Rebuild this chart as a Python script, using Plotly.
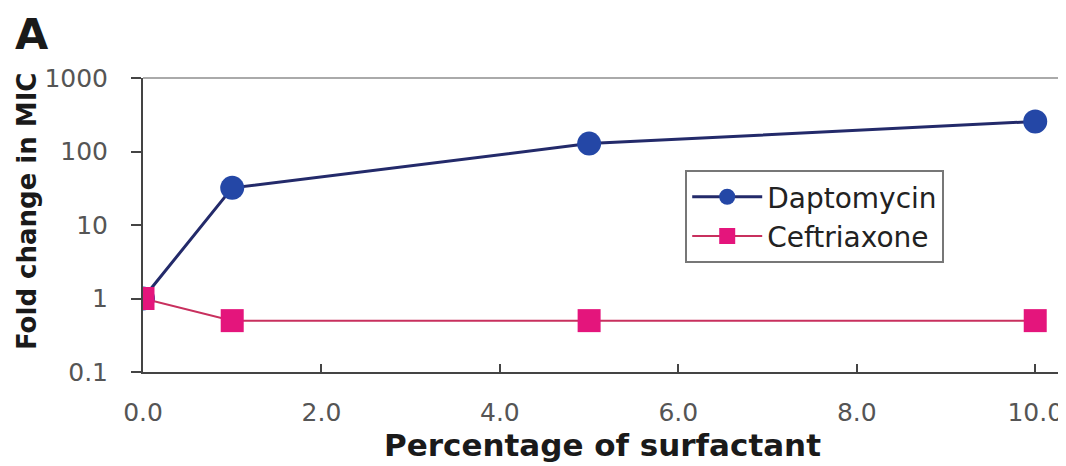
import plotly.graph_objects as go

surfactant = [0.0, 1.0, 5.0, 10.0]
daptomycin = [1, 32, 128, 256]
ceftriaxone = [1, 0.5, 0.5, 0.5]
x_ticks = [0, 2, 4, 6, 8, 10]
x_tick_labels = ["0.0", "2.0", "4.0", "6.0", "8.0", "10.0"]
y_ticks = [0.1, 1, 10, 100, 1000]
y_tick_labels = ["0.1", "1", "10", "100", "1000"]

FONT = "DejaVu Sans, Arial, sans-serif"

fig = go.Figure()
fig.add_trace(go.Scatter(
    x=surfactant, y=daptomycin, name="Daptomycin", mode="lines+markers",
    line=dict(color="#232a6a", width=3),
    marker=dict(symbol="circle", size=24, color="#2447a6"),
))
fig.add_trace(go.Scatter(
    x=surfactant, y=ceftriaxone, name="Ceftriaxone", mode="lines+markers",
    line=dict(color="#c8305e", width=2),
    marker=dict(symbol="square", size=23, color="#e4157c"),
))

fig.update_layout(
    width=1058, height=458,
    margin=dict(l=135, r=4, t=70, b=94),
    paper_bgcolor="white", plot_bgcolor="white",
    font=dict(family=FONT, color="#222"),
    showlegend=True,
    legend=dict(
        x=0.59, y=0.687, xanchor="left", yanchor="top",
        bordercolor="#777", borderwidth=2, bgcolor="white",
        font=dict(size=28, color="#222", family=FONT),
        itemwidth=70, tracegroupgap=0,
    ),
    xaxis=dict(
        range=[0, 10.3], tickvals=x_ticks, ticktext=x_tick_labels,
        showline=True, linecolor="#444", linewidth=2,
        ticks="inside", ticklen=8, tickcolor="#444", tickwidth=2,
        showgrid=False, zeroline=False, automargin=False,
        tickfont=dict(size=25, color="#555", family=FONT),
        ticklabelstandoff=17,
        title=dict(text="<b>Percentage of surfactant</b>", font=dict(size=31, color="#1a1a1a", family=FONT), standoff=6),
    ),
    yaxis=dict(
        type="log", range=[-1, 3], tickvals=y_ticks, ticktext=y_tick_labels,
        showline=True, linecolor="#444", linewidth=2,
        ticks="outside", ticklen=10, tickcolor="#444", tickwidth=2,
        showgrid=False, zeroline=False, automargin=False,
        tickfont=dict(size=25, color="#555", family=FONT),
        ticklabelstandoff=18,
    ),
    shapes=[dict(type="line", xref="paper", yref="paper", x0=0, x1=1, y0=1, y1=1,
                 line=dict(color="#aaa", width=2))],
    annotations=[
        dict(text="<b>A</b>", xref="paper", yref="paper",
             x=-0.142, y=1.24, xanchor="left", yanchor="top",
             showarrow=False, font=dict(size=43, color="#1a1a1a", family=FONT)),
        dict(text="<b>Fold change in MIC</b>", xref="paper", yref="paper",
             x=-0.126, y=0.548, xanchor="center", yanchor="middle", textangle=-90,
             showarrow=False, font=dict(size=26, color="#1a1a1a", family=FONT)),
    ],
)

fig.write_html("out.html")
